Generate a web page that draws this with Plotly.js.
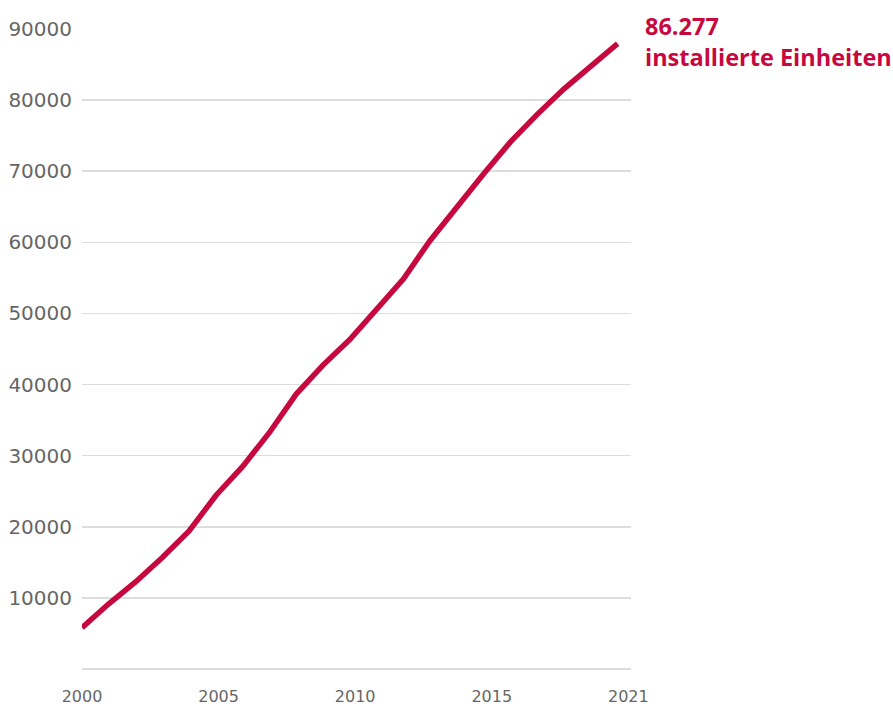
<!DOCTYPE html>
<html>
<head>
<meta charset="utf-8">
<script src="https://cdn.plot.ly/plotly-3.0.1.min.js"></script>
<style>html,body{margin:0;padding:0;background:#fff;}#chart{width:893px;height:706px;}</style>
</head>
<body>
<div id="chart"></div>
<script>
// Data
var years = [2000,2001,2002,2003,2004,2005,2006,2007,2008,2009,2010,2011,2012,2013,2014,2015,2016,2017,2018,2019,2020];
var units = [5800,9170,12240,15680,19410,24400,28480,33260,38660,42740,46340,50620,54850,60270,65050,69650,74120,78000,81590,84880,87930];
var xTickLabels = ['2000','2005','2010','2015','2021'];
var yTickVals = [10000,20000,30000,40000,50000,60000,70000,80000,90000];
var endLabel = '86.277<br>installierte Einheiten';

var red = '#C6083E';
var first = years[0], last = years[years.length-1];
var labelEnd = last + 0.4;
var xTickVals = xTickLabels.map(function(_, i){ return first + i*(labelEnd-first)/(xTickLabels.length-1); });

var trace = {
  x: years, y: units, type: 'scatter', mode: 'lines',
  line: {color: red, width: 5.5},
  hoverinfo: 'skip'
};

var tickFam = 'DejaVu Sans, sans-serif';
var layout = {
  width: 893, height: 706,
  margin: {l: 82, r: 262, t: 29, b: 37},
  paper_bgcolor: '#fff', plot_bgcolor: '#fff',
  showlegend: false,
  font: {family: tickFam, color: '#666'},
  xaxis: {
    range: [first, last + 0.5],
    tickvals: xTickVals, ticktext: xTickLabels,
    showgrid: false, zeroline: false, showline: false,
    ticks: '', ticklabelstandoff: 16,
    tickfont: {size: 16, color: '#666', family: tickFam}
  },
  yaxis: {
    range: [0, 90000],
    tickvals: yTickVals,
    ticktext: yTickVals.map(String),
    showgrid: true, gridcolor: '#dddddd', gridwidth: 1.5,
    zeroline: true, zerolinecolor: '#dddddd', zerolinewidth: 1.5,
    showline: false, ticks: '', ticklabelstandoff: 9,
    tickfont: {size: 20, color: '#666', family: tickFam}
  },
  annotations: [{
    xref: 'paper', yref: 'paper',
    x: (643-82)/549, y: 1 + (29-8)/640,
    xanchor: 'left', yanchor: 'top', align: 'left',
    showarrow: false,
    text: '<b>' + endLabel.replace('<br>', '</b><br><b>') + '</b>',
    font: {size: 23.5, color: red, family: 'Open Sans, sans-serif'}
  }]
};

Plotly.newPlot('chart', [trace], layout, {displayModeBar: false, staticPlot: true});
</script>
</body>
</html>
